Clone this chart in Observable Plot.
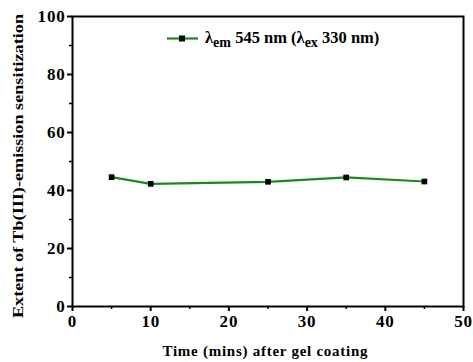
<!DOCTYPE html>
<html><head><meta charset="utf-8">
<script src="https://cdn.jsdelivr.net/npm/d3@7"></script>
<script src="https://cdn.jsdelivr.net/npm/@observablehq/plot@0.6"></script>
<style>body{margin:0;background:#fff}</style>
</head><body><div id="chart"></div>
<script>
const times = [5, 10, 25, 35, 45];
const extent = [44.6, 42.3, 43.0, 44.5, 43.1];
const xTicks = [0, 10, 20, 30, 40, 50];
const yTicks = [0, 20, 40, 60, 80, 100];
const xMinor = [5, 15, 25, 35, 45];
const yMinor = [10, 30, 50, 70, 90];
const data = times.map((t, i) => ({t, v: extent[i]}));
const font = "Liberation Serif";
const W = 473, H = 362;
const mL = 72, mR = 10, mT = 16, mB = 56;

const chart = Plot.plot({
  width: W, height: H,
  marginLeft: mL, marginRight: mR, marginTop: mT, marginBottom: mB,
  style: {fontFamily: font, fontWeight: "bold", fontSize: "15px", background: "#fff", color: "#000"},
  x: {domain: [0, 50]},
  y: {domain: [0, 100]},
  marks: [
    Plot.frame({stroke: "#000", strokeWidth: 2}),
    Plot.axisX({ticks: xTicks, tickSize: 5, tickPadding: 3, label: null, strokeWidth: 2, fontSize: 15, fontWeight: "bold"}),
    Plot.axisX({ticks: xMinor, tickSize: 3, tickFormat: () => "", label: null, strokeWidth: 1.5}),
    Plot.axisY({ticks: yTicks, tickSize: 5, tickPadding: 2, label: null, strokeWidth: 2, fontSize: 15, fontWeight: "bold"}),
    Plot.axisY({ticks: yMinor, tickSize: 3, tickFormat: () => "", label: null, strokeWidth: 1.5}),
    Plot.line(data, {x: "t", y: "v", stroke: "#1a8a1a", strokeWidth: 2.2}),
    Plot.dot(data, {x: "t", y: "v", symbol: "square", fill: "#000", r: 3.2})
  ]
});
document.getElementById("chart").appendChild(chart);

const svg = d3.select(chart);
svg.selectAll("text")
  .style("font-size", "17px").style("font-family", font).style("font-weight", "bold")
  .style("letter-spacing", "0.8px");
// axis titles
svg.append("text").attr("x", 265).attr("y", 356)
  .attr("text-anchor", "middle").attr("font-family", font).attr("font-weight", "bold")
  .attr("font-size", 15).attr("textLength", 205).attr("lengthAdjust", "spacing")
  .text("Time (mins) after gel coating");
svg.append("text").attr("transform", `translate(23,166) rotate(-90)`)
  .attr("text-anchor", "middle").attr("font-family", font).attr("font-weight", "bold")
  .attr("font-size", 15).attr("textLength", 304).attr("lengthAdjust", "spacingAndGlyphs")
  .text("Extent of Tb(III)-emission sensitization");
// legend
const lg = svg.append("g").attr("font-family", font).attr("font-weight", "bold").attr("font-size", 16.5)
  .attr("text-anchor", "start");
lg.append("line").attr("x1", 167).attr("x2", 198).attr("y1", 38.5).attr("y2", 38.5)
  .attr("stroke", "#1a8a1a").attr("stroke-width", 2.2);
lg.append("rect").attr("x", 179).attr("y", 35.5).attr("width", 6).attr("height", 6).attr("fill", "#000");
const t = lg.append("text").attr("x", 205).attr("y", 43).attr("text-anchor", "start");
t.append("tspan").text("λ");
t.append("tspan").attr("dy", 4).attr("font-size", 14).text("em");
t.append("tspan").attr("dy", -4).text(" 545 nm (λ");
t.append("tspan").attr("dy", 4).attr("font-size", 14).text("ex");
t.append("tspan").attr("dy", -4).text(" 330 nm)");
</script></body></html>
